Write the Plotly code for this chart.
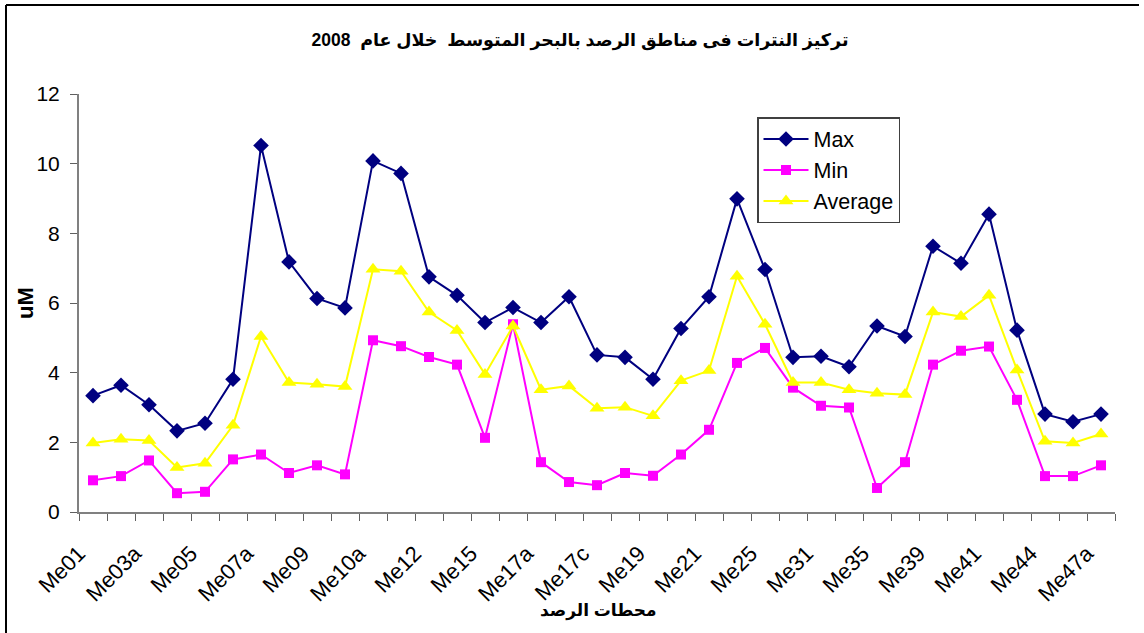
import plotly.graph_objects as go

# Station names (only every other one is labelled on the axis)
stations = ['Me01', 'Me02', 'Me03a', 'Me04', 'Me05', 'Me06', 'Me07a', 'Me08',
            'Me09', 'Me10', 'Me10a', 'Me11', 'Me12', 'Me13', 'Me15', 'Me16',
            'Me17a', 'Me17b', 'Me17c', 'Me18', 'Me19', 'Me20', 'Me21', 'Me22',
            'Me25', 'Me28', 'Me31', 'Me33', 'Me35', 'Me37', 'Me39', 'Me40',
            'Me41', 'Me43', 'Me44', 'Me47', 'Me47a']

max_vals = [3.34, 3.64, 3.08, 2.33, 2.55, 3.81, 10.52, 7.18, 6.13, 5.86,
            10.08, 9.72, 6.75, 6.22, 5.44, 5.87, 5.44, 6.18, 4.51, 4.44,
            3.81, 5.27, 6.18, 8.99, 6.96, 4.44, 4.47, 4.17, 5.34, 5.04,
            7.63, 7.14, 8.55, 5.22, 2.81, 2.59, 2.81]
min_vals = [0.91, 1.03, 1.48, 0.54, 0.58, 1.51, 1.65, 1.12, 1.34, 1.08,
            4.93, 4.76, 4.45, 4.23, 2.13, 5.39, 1.43, 0.86, 0.77, 1.12,
            1.04, 1.65, 2.36, 4.28, 4.71, 3.57, 3.05, 3.00, 0.69, 1.43,
            4.23, 4.63, 4.75, 3.22, 1.03, 1.03, 1.34]
avg_vals = [1.98, 2.09, 2.05, 1.28, 1.40, 2.49, 5.04, 3.72, 3.67, 3.60,
            6.97, 6.91, 5.74, 5.21, 3.95, 5.34, 3.51, 3.62, 2.98, 3.01,
            2.76, 3.77, 4.06, 6.77, 5.39, 3.72, 3.72, 3.51, 3.41, 3.37,
            5.74, 5.61, 6.22, 4.08, 2.03, 1.98, 2.24]

tick_text = [s if i % 2 == 0 else '' for i, s in enumerate(stations)]

FONT = 'Liberation Sans, Arial, DejaVu Sans, sans-serif'
W, H = 1144, 633
L, R, T, B = 79, 29, 94, 121
pw, ph = W - L - R, H - T - B


def px_x(p):
    return (p - L) / pw


def px_y(p):
    return (H - B - p) / ph


fig = go.Figure()
fig.add_trace(go.Scatter(
    x=stations, y=max_vals, name='Max', mode='lines+markers',
    line=dict(color='#000080', width=2),
    marker=dict(symbol='diamond', size=12, color='#000080')))
fig.add_trace(go.Scatter(
    x=stations, y=min_vals, name='Min', mode='lines+markers',
    line=dict(color='#FF00FF', width=2),
    marker=dict(symbol='square', size=10, color='#FF00FF')))
fig.add_trace(go.Scatter(
    x=stations, y=avg_vals, name='Average', mode='lines+markers',
    line=dict(color='#FFFF00', width=2),
    marker=dict(symbol='triangle-up', size=13, color='#FFFF00')))

# outer chart frame (top and left edges visible in the original)
frame = dict(color='black', width=2)
fig.add_shape(type='line', xref='paper', yref='paper',
              x0=px_x(6), x1=px_x(1139), y0=px_y(5), y1=px_y(5), line=frame)
fig.add_shape(type='line', xref='paper', yref='paper',
              x0=px_x(6), x1=px_x(6), y0=px_y(5), y1=px_y(640), line=frame)

# axis titles placed as annotations
fig.add_annotation(text='<b>uM</b>', xref='paper', yref='paper',
                   x=px_x(25), y=px_y(303), textangle=-90, showarrow=False,
                   font=dict(size=22), xanchor='center', yanchor='middle')
fig.add_annotation(text='<b>محطات الرصد</b>', xref='paper', yref='paper',
                   x=px_x(598), y=px_y(611), showarrow=False,
                   font=dict(size=17), xanchor='center', yanchor='middle')

fig.update_layout(
    width=W, height=H,
    margin=dict(l=L, r=R, t=T, b=B, autoexpand=False),
    paper_bgcolor='white', plot_bgcolor='white',
    font=dict(family=FONT, color='black', size=22),
    title=dict(text='<b>تركيز النترات فى مناطق الرصد بالبحر المتوسط  خلال عام  2008</b>',
               x=580 / W, xanchor='center',
               y=1 - 40 / H, yanchor='middle',
               font=dict(size=17.5, family=FONT)),
    showlegend=True,
    legend=dict(x=px_x(757), y=px_y(117), xanchor='left', yanchor='top',
                bgcolor='white', bordercolor='#404040', borderwidth=1.5,
                itemwidth=45, font=dict(size=21.5, family=FONT)),
    xaxis=dict(type='category', tickmode='array', tickvals=stations,
               ticktext=tick_text, tickangle=-45, tickson='boundaries',
               range=[-0.5, len(stations) - 0.5], automargin=False,
               ticks='outside', ticklen=7, tickcolor='#606060',
               showline=True, linecolor='#808080', linewidth=2,
               showgrid=False, zeroline=False, ticklabelshift=-14,
               ticklabelstandoff=18, tickfont=dict(size=22)),
    yaxis=dict(range=[0, 12], dtick=2, ticks='outside', ticklen=7,
               automargin=False, ticklabelstandoff=6,
               tickcolor='#606060', showline=True, linecolor='#808080',
               linewidth=2, showgrid=False, zeroline=False,
               tickfont=dict(size=21)),
)

fig.write_html('out.html', config={'displayModeBar': False},
               post_script="document.body.style.margin='0';")
